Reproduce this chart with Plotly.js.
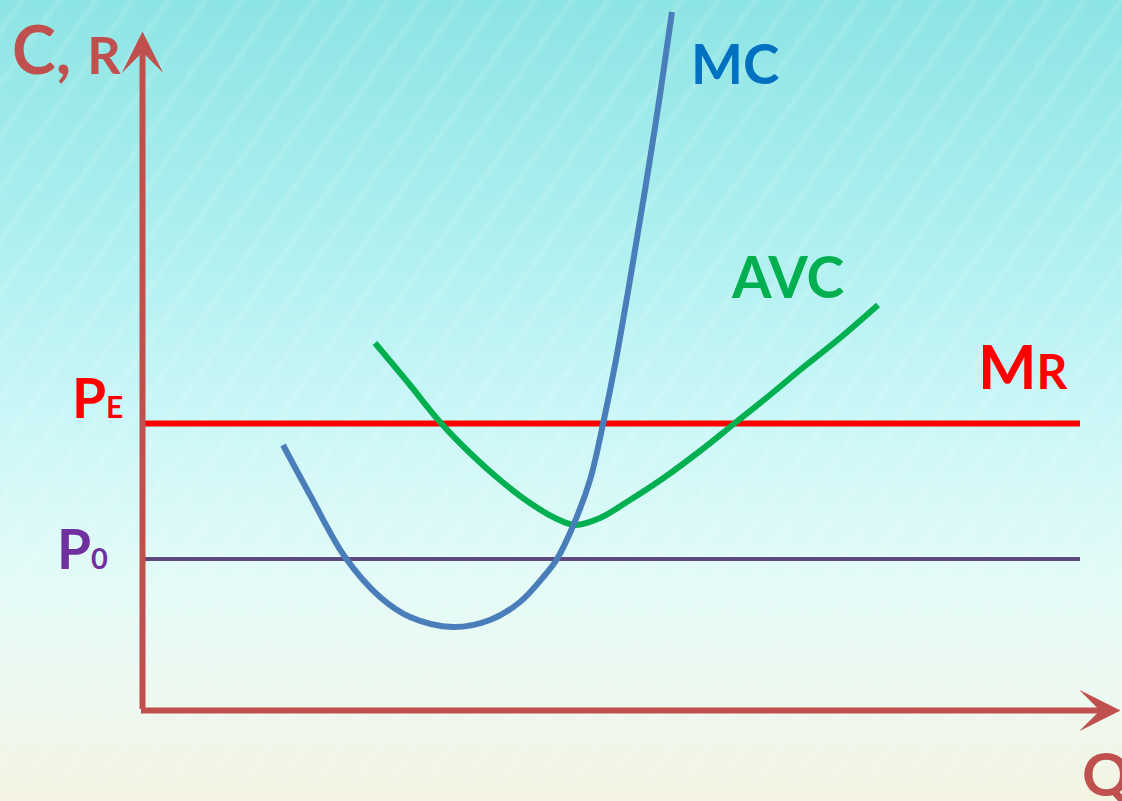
<!DOCTYPE html>
<html>
<head>
<meta charset="utf-8">
<script src="https://cdn.plot.ly/plotly-3.0.1.min.js"></script>
<style>
  html, body { margin: 0; padding: 0; }
  #chart {
    width: 1122px; height: 801px;
    background:
      repeating-linear-gradient(125deg, rgba(255,255,255,0) 0px, rgba(255,255,255,0) 14px, rgba(255,255,255,0.13) 18px, rgba(255,255,255,0) 24px, rgba(255,255,255,0) 30px),
      linear-gradient(180deg, #8de4e4 0%, #a9eeee 25%, #c8f6f7 50%, #e3fbf8 72%, #eef8ef 88%, #f4f3e1 100%);
  }
</style>
</head>
<body>
<div id="chart"></div>
<script>
// Marginal cost curve (quantity, cost)
const mcQ    = [14.05, 16.75, 20.25, 23.75, 26.75, 31.05, 34.75, 37.75, 40.25, 41.45, 43.05, 44.75, 46.05, 47.25, 48.75, 50.25, 51.75, 52.95];
const mcCost = [26.55, 21.55, 15.35, 11.35,  9.35,  8.35,  9.05, 10.85, 13.55, 15.15, 18.45, 23.05, 28.65, 34.55, 43.05, 52.05, 61.55, 69.85];

// Average variable cost curve
const avcQ    = [23.25, 26.75, 29.75, 32.75, 35.75, 38.75, 41.25, 43.25, 45.75, 48.75, 52.25, 55.75, 59.25, 62.75, 65.75, 69.75, 73.55];
const avcCost = [36.75, 32.55, 28.85, 25.75, 23.05, 20.75, 19.25, 18.55, 19.25, 21.05, 23.35, 25.95, 28.75, 31.55, 34.05, 37.25, 40.55];

// Price levels: equilibrium price (marginal revenue) and shutdown price
const priceLevels = [28.7, 15.15];
const priceQ = [0, 93.75];

// Axis extents
const qAxisEnd = 97.8;
const costAxisEnd = 67.9;

const AXIS_COLOR = '#c0504d';
const FONT = 'Lato, "Open Sans", sans-serif';

const traces = [
  { x: priceQ, y: [priceLevels[1], priceLevels[1]], mode: 'lines',
    line: { color: '#5e4a7e', width: 4 }, hoverinfo: 'skip' },
  { x: priceQ, y: [priceLevels[0], priceLevels[0]], mode: 'lines',
    line: { color: '#ff0000', width: 6 }, hoverinfo: 'skip' },
  { x: avcQ, y: avcCost, mode: 'lines',
    line: { color: '#00b050', width: 6, shape: 'spline', smoothing: 1 }, hoverinfo: 'skip' },
  { x: mcQ, y: mcCost, mode: 'lines',
    line: { color: '#4a7ebb', width: 6, shape: 'spline', smoothing: 1 }, hoverinfo: 'skip' }
];

function label(text, px, py, size, color) {
  return {
    xref: 'paper', yref: 'paper', x: px / 1122, y: 1 - py / 801,
    xanchor: 'center', yanchor: 'middle', showarrow: false,
    text: text, font: { family: FONT, size: size, color: color, weight: 700 }
  };
}

const annotations = [
  // axes with arrowheads
  { x: 0, y: costAxisEnd, ax: 0, ay: 0, xref: 'x', yref: 'y', axref: 'x', ayref: 'y',
    showarrow: true, arrowhead: 3, arrowwidth: 6, arrowsize: 1.15, arrowcolor: AXIS_COLOR, text: '' },
  { x: qAxisEnd, y: 0, ax: -0.3, ay: 0, xref: 'x', yref: 'y', axref: 'x', ayref: 'y',
    showarrow: true, arrowhead: 3, arrowwidth: 6, arrowsize: 1.15, arrowcolor: AXIS_COLOR, text: '' },
  label('C, <span style="font-size:52px">R</span>', 66, 48, 66, AXIS_COLOR),
  label('Q', 1106, 773, 60, AXIS_COLOR),
  label('MC', 735, 63, 55, '#0070c0'),
  label('AVC', 788, 276, 57, '#00b050'),
  label('M<span style="font-size:48px">R</span>', 1023, 365, 62, '#ff0000'),
  label('P<span style="font-size:30px">E</span>', 97, 397, 55, '#ff0000'),
  label('P<span style="font-size:29px">0</span>', 82, 548, 55, '#7030a0')
];

const layout = {
  width: 1122, height: 801,
  margin: { l: 0, r: 0, t: 0, b: 0 },
  paper_bgcolor: 'rgba(0,0,0,0)', plot_bgcolor: 'rgba(0,0,0,0)',
  showlegend: false,
  xaxis: { range: [-14.25, 97.95], visible: false, fixedrange: true },
  yaxis: { range: [-9.05, 71.05], visible: false, fixedrange: true },
  annotations: annotations
};

Plotly.newPlot('chart', traces, layout, { staticPlot: true, displayModeBar: false });
</script>
</body>
</html>
